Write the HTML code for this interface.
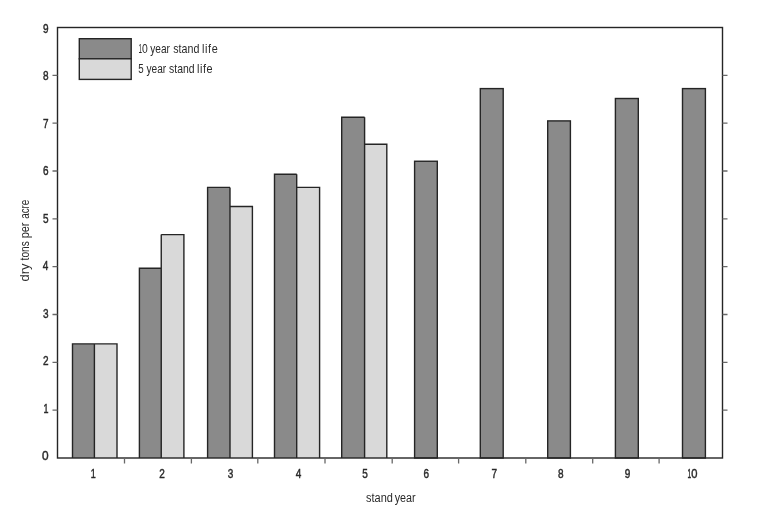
<!DOCTYPE html><html><head><meta charset="utf-8"><style>html,body{margin:0;padding:0;background:#fff;width:768px;height:524px;overflow:hidden}svg{display:block}.w{position:absolute;left:0;top:0;will-change:transform}text{font-family:"Liberation Sans",sans-serif;fill:#2a2a2a}</style></head><body>
<div class="w"><svg width="768" height="524" viewBox="0 0 768 524">
<rect x="0" y="0" width="768" height="524" fill="#fff"/>
<rect x="72.5" y="343.9" width="21.90" height="114.10" fill="#8a8a8a"/>
<rect x="94.4" y="343.9" width="22.60" height="114.10" fill="#d9d9d9"/>
<path d="M72.5 458.0V343.9H94.4M94.4 343.9H117.0V458.0M94.4 343.9V458.0" fill="none" stroke="#252525" stroke-width="1.4"/>
<rect x="139.4" y="268.2" width="21.85" height="189.80" fill="#8a8a8a"/>
<rect x="161.25" y="234.6" width="22.65" height="223.40" fill="#d9d9d9"/>
<path d="M139.4 458.0V268.2H161.25M161.25 234.6H183.9V458.0M161.25 234.6V458.0" fill="none" stroke="#252525" stroke-width="1.4"/>
<rect x="207.6" y="187.4" width="22.40" height="270.60" fill="#8a8a8a"/>
<rect x="230.0" y="206.5" width="22.40" height="251.50" fill="#d9d9d9"/>
<path d="M207.6 458.0V187.4H230.0M230.0 206.5H252.4V458.0M230.0 187.4V458.0" fill="none" stroke="#252525" stroke-width="1.4"/>
<rect x="274.5" y="174.2" width="22.20" height="283.80" fill="#8a8a8a"/>
<rect x="296.7" y="187.4" width="22.90" height="270.60" fill="#d9d9d9"/>
<path d="M274.5 458.0V174.2H296.7M296.7 187.4H319.6V458.0M296.7 174.2V458.0" fill="none" stroke="#252525" stroke-width="1.4"/>
<rect x="341.7" y="117.2" width="22.90" height="340.80" fill="#8a8a8a"/>
<rect x="364.6" y="144.3" width="22.20" height="313.70" fill="#d9d9d9"/>
<path d="M341.7 458.0V117.2H364.6M364.6 144.3H386.8V458.0M364.6 117.2V458.0" fill="none" stroke="#252525" stroke-width="1.4"/>
<rect x="414.6" y="161.25" width="22.70" height="296.75" fill="#8a8a8a" stroke="#252525" stroke-width="1.4"/>
<rect x="480.3" y="88.6" width="22.90" height="369.40" fill="#8a8a8a" stroke="#252525" stroke-width="1.4"/>
<rect x="547.7" y="120.9" width="22.70" height="337.10" fill="#8a8a8a" stroke="#252525" stroke-width="1.4"/>
<rect x="615.4" y="98.5" width="22.90" height="359.50" fill="#8a8a8a" stroke="#252525" stroke-width="1.4"/>
<rect x="682.5" y="88.6" width="22.90" height="369.40" fill="#8a8a8a" stroke="#252525" stroke-width="1.4"/>
<rect x="57.5" y="27.5" width="665.0" height="430.5" fill="none" stroke="#252525" stroke-width="1.4"/>
<path d="M52.5 410.17H57.5M722.5 410.17H727.5M52.5 362.33H57.5M722.5 362.33H727.5M52.5 314.50H57.5M722.5 314.50H727.5M52.5 266.67H57.5M722.5 266.67H727.5M52.5 218.83H57.5M722.5 218.83H727.5M52.5 171.00H57.5M722.5 171.00H727.5M52.5 123.17H57.5M722.5 123.17H727.5M52.5 75.33H57.5M722.5 75.33H727.5M124.5 458.0V463.5M191.4 458.0V463.5M257.8 458.0V463.5M325.0 458.0V463.5M392.2 458.0V463.5M458.6 458.0V463.5M525.8 458.0V463.5M592.7 458.0V463.5M659.1 458.0V463.5" fill="none" stroke="#686868" stroke-width="1.3"/>
<text transform="translate(41.96 460.23) scale(0.950 1.0)" font-size="12.5" stroke="#2a2a2a" stroke-width="0.45">0</text>
<text transform="translate(43.53 412.64) scale(0.720 1.0)" font-size="12.5" stroke="#2a2a2a" stroke-width="0.45">1</text>
<text transform="translate(43.02 365.22) scale(0.800 1.0)" font-size="12.5" stroke="#2a2a2a" stroke-width="0.45">2</text>
<text transform="translate(42.93 317.79) scale(0.800 1.0)" font-size="12.5" stroke="#2a2a2a" stroke-width="0.45">3</text>
<text transform="translate(42.77 270.25) scale(0.800 1.0)" font-size="12.5" stroke="#2a2a2a" stroke-width="0.45">4</text>
<text transform="translate(42.93 222.72) scale(0.800 1.0)" font-size="12.5" stroke="#2a2a2a" stroke-width="0.45">5</text>
<text transform="translate(42.93 175.35) scale(0.800 1.0)" font-size="12.5" stroke="#2a2a2a" stroke-width="0.45">6</text>
<text transform="translate(43.02 127.76) scale(0.800 1.0)" font-size="12.5" stroke="#2a2a2a" stroke-width="0.45">7</text>
<text transform="translate(42.93 80.39) scale(0.800 1.0)" font-size="12.5" stroke="#2a2a2a" stroke-width="0.45">8</text>
<text transform="translate(43.02 32.91) scale(0.800 1.0)" font-size="12.5" stroke="#2a2a2a" stroke-width="0.45">9</text>
<text transform="translate(90.67 478.40) scale(0.720 1.0)" font-size="12.5" stroke="#2a2a2a" stroke-width="0.45">1</text>
<text transform="translate(159.21 478.40) scale(0.800 1.0)" font-size="12.5" stroke="#2a2a2a" stroke-width="0.45">2</text>
<text transform="translate(227.71 478.40) scale(0.800 1.0)" font-size="12.5" stroke="#2a2a2a" stroke-width="0.45">3</text>
<text transform="translate(295.75 478.40) scale(0.800 1.0)" font-size="12.5" stroke="#2a2a2a" stroke-width="0.45">4</text>
<text transform="translate(362.21 478.40) scale(0.800 1.0)" font-size="12.5" stroke="#2a2a2a" stroke-width="0.45">5</text>
<text transform="translate(423.47 478.40) scale(0.800 1.0)" font-size="12.5" stroke="#2a2a2a" stroke-width="0.45">6</text>
<text transform="translate(491.51 478.40) scale(0.800 1.0)" font-size="12.5" stroke="#2a2a2a" stroke-width="0.45">7</text>
<text transform="translate(558.01 478.40) scale(0.800 1.0)" font-size="12.5" stroke="#2a2a2a" stroke-width="0.45">8</text>
<text transform="translate(624.75 478.40) scale(0.800 1.0)" font-size="12.5" stroke="#2a2a2a" stroke-width="0.45">9</text>
<text transform="translate(687.60 478.40) scale(0.535 1.0)" font-size="12.5" stroke="#2a2a2a" stroke-width="0.45">1</text>
<text transform="translate(691.23 478.40) scale(0.894 1.0)" font-size="12.5" stroke="#2a2a2a" stroke-width="0.45">0</text>
<text transform="translate(366.03 502.00) scale(0.814 1.0)" font-size="13.5">stand</text>
<text transform="translate(394.70 502.00) scale(0.797 1.0)" font-size="13.5">year</text>
<text transform="translate(29.40 281.44) rotate(-90) scale(0.961 1.0)" font-size="13.5">dry</text>
<text transform="translate(29.40 260.38) rotate(-90) scale(0.753 1.0)" font-size="13.5">tons</text>
<text transform="translate(29.40 238.34) rotate(-90) scale(0.813 1.0)" font-size="13.5">per</text>
<text transform="translate(29.40 218.81) rotate(-90) scale(0.729 1.0)" font-size="13.5">acre</text>
<rect x="79.3" y="38.7" width="51.9" height="20.1" fill="#8a8a8a" stroke="#252525" stroke-width="1.4"/>
<rect x="79.3" y="58.8" width="51.9" height="20.6" fill="#d9d9d9" stroke="#252525" stroke-width="1.4"/>
<text transform="translate(138.52 52.70) scale(0.517 1.0)" font-size="12.5">1</text>
<text transform="translate(141.96 52.70) scale(0.828 1.0)" font-size="12.5">0</text>
<text transform="translate(150.25 52.70) scale(0.809 1.0)" font-size="12.5">year</text>
<text transform="translate(173.23 52.70) scale(0.855 1.0)" font-size="12.5">stand</text>
<text transform="translate(202.08 52.70) scale(0.870 1.0)" font-size="12.5" letter-spacing="0.656">life</text>
<text transform="translate(138.20 72.90) scale(0.775 1.0)" font-size="12.5">5</text>
<text transform="translate(146.50 72.90) scale(0.811 1.0)" font-size="12.5">year</text>
<text transform="translate(169.04 72.90) scale(0.834 1.0)" font-size="12.5">stand</text>
<text transform="translate(197.08 72.90) scale(0.870 1.0)" font-size="12.5" letter-spacing="0.580">life</text>
</svg></div></body></html>
